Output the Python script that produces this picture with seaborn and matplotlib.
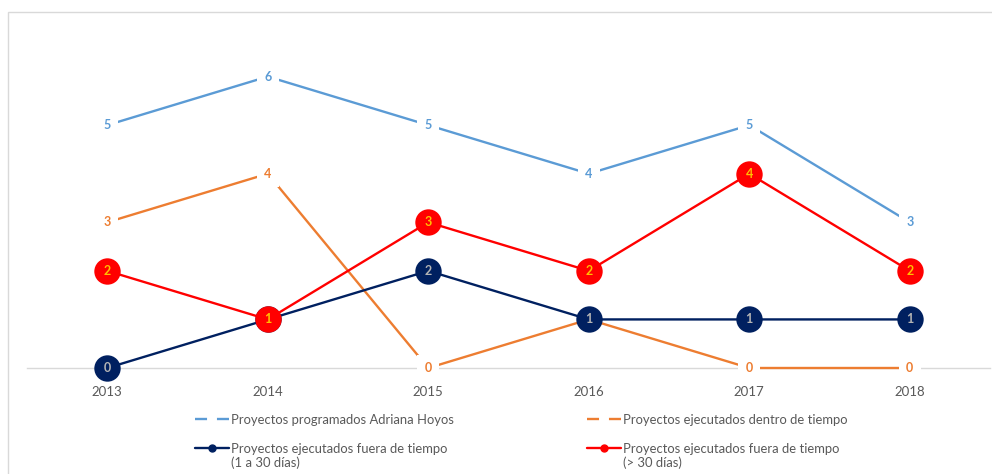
import matplotlib
matplotlib.use("Agg")
import matplotlib.pyplot as plt
from matplotlib.lines import Line2D
from matplotlib.patches import Rectangle
import seaborn as sns
import numpy as np

sns.set_theme(style="white")
plt.rcParams["font.family"] = ["Lato", "DejaVu Sans"]

# Data
years = ["2013", "2014", "2015", "2016", "2017", "2018"]
programados = [5, 6, 5, 4, 5, 3]
dentro_tiempo = [3, 4, 0, 1, 0, 0]
fuera_1_30 = [0, 1, 2, 1, 1, 1]
fuera_mas_30 = [2, 1, 3, 2, 4, 2]

lbl_programados = "Proyectos programados Adriana Hoyos"
lbl_dentro = "Proyectos ejecutados dentro de tiempo"
lbl_fuera = "Proyectos ejecutados fuera de tiempo"
sub_1_30 = "(1 a 30 días)"
sub_mas_30 = "(> 30 días)"

c_blue = "#5B9BD5"
c_orange = "#ED7D31"
c_navy = "#002060"
c_red = "#FF0000"

W, H = 992, 474
fig = plt.figure(figsize=(W / 100, H / 100), dpi=100)
ax = fig.add_axes([27 / W, 1 - 368 / H, (990 - 27) / W, (368 - 28) / H])

x = np.arange(len(years))

# Outer frame
fig.patches.append(Rectangle((8 / W, -0.1), 1.2, (1 - 12 / H) + 0.1,
                             transform=fig.transFigure, fill=False,
                             edgecolor="#D9D9D9", linewidth=1.0, zorder=0))

# Plain lines with value labels sitting in gaps of the line
sns.lineplot(x=x, y=programados, ax=ax, color=c_blue, linewidth=1.7, zorder=2,
             clip_on=False)
sns.lineplot(x=x, y=dentro_tiempo, ax=ax, color=c_orange, linewidth=1.7, zorder=3,
             clip_on=False)
for xi, v in zip(x, programados):
    ax.text(xi, v, str(v), ha="center", va="center", color=c_blue, fontsize=9,
            fontweight="bold", zorder=4,
            bbox=dict(boxstyle="square,pad=0.6", fc="white", ec="none"))
for xi, v in zip(x, dentro_tiempo):
    ax.text(xi, v, str(v), ha="center", va="center", color=c_orange, fontsize=9,
            fontweight="bold", zorder=4,
            bbox=dict(boxstyle="square,pad=0.6", fc="white", ec="none"))

# Lines with round markers holding their value
sns.lineplot(x=x, y=fuera_1_30, ax=ax, color=c_navy, linewidth=1.7, marker="o",
             markersize=19, markeredgewidth=0, zorder=5, clip_on=False)
for xi, v in zip(x, fuera_1_30):
    ax.text(xi, v, str(v), ha="center", va="center", color="#B4B4B4",
            fontsize=9, fontweight="bold", zorder=6)
sns.lineplot(x=x, y=fuera_mas_30, ax=ax, color=c_red, linewidth=1.7, marker="o",
             markersize=19, markeredgewidth=0, zorder=7, clip_on=False)
for xi, v in zip(x, fuera_mas_30):
    ax.text(xi, v, str(v), ha="center", va="center", color="#FFC000",
            fontsize=9, fontweight="bold", zorder=8)

ax.set_xlim(-0.5, 5.5)
ax.set_ylim(0, 7)
ax.set_xticks(x)
ax.set_xticklabels(years, color="#595959", fontsize=9.5)
ax.set_yticks([])
ax.tick_params(axis="x", length=0, pad=13)
for s in ["top", "left", "right"]:
    ax.spines[s].set_visible(False)
ax.spines["bottom"].set_color("#D9D9D9")
ax.spines["bottom"].set_linewidth(1.0)
ax.spines["bottom"].set_zorder(1)
ax.patch.set_alpha(0)

# Legend, filled row by row in two columns
dash = (0, (5.1, 4.2))
handles = [
    Line2D([0], [0], color=c_blue, linewidth=1.7, linestyle=dash),
    Line2D([0], [0], color=c_navy, linewidth=1.7, marker="o", markersize=5),
    Line2D([0], [0], color=c_orange, linewidth=1.7, linestyle=dash),
    Line2D([0], [0], color=c_red, linewidth=1.7, marker="o", markersize=5),
]
leg_labels = [lbl_programados, lbl_fuera, lbl_dentro, lbl_fuera]
leg = fig.legend(handles, leg_labels, ncol=2, loc="upper left",
                 bbox_to_anchor=(195 / W, 1 - 414 / H), frameon=False,
                 fontsize=9.4, labelcolor="#595959", handlelength=2.6,
                 handletextpad=0.15, columnspacing=10.2, labelspacing=1.3,
                 borderaxespad=0, borderpad=0)

fig.canvas.draw()
renderer = fig.canvas.get_renderer()
inv = fig.transFigure.inverted()
for t, sub in zip([leg.get_texts()[1], leg.get_texts()[3]], [sub_1_30, sub_mas_30]):
    bb = t.get_window_extent(renderer)
    x0, y0 = inv.transform((bb.x0, bb.y0))
    fig.text(x0, y0 - 1 / H, sub, ha="left", va="top", fontsize=9.4, color="#595959")

fig.savefig("out.png", dpi=100)
